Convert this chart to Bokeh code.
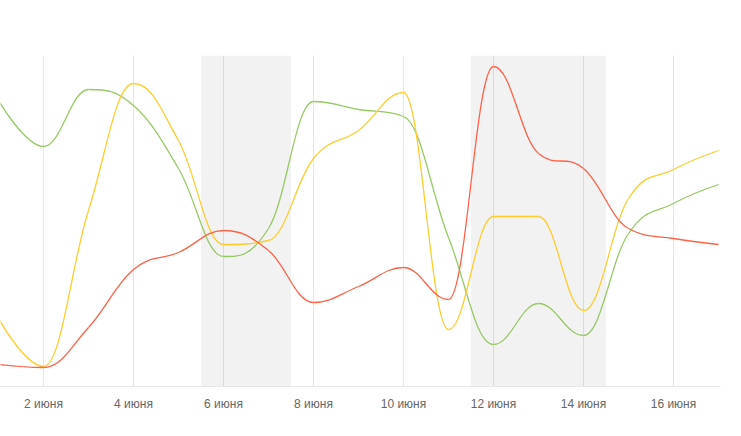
from bokeh.plotting import figure
from bokeh.models import BoxAnnotation, FixedTicker, ColumnDataSource, Range1d
from bokeh.embed import file_html
from bokeh.resources import INLINE

# ---- data ----
days = list(range(1, 18))
red = [22, 19, 59, 117, 134, 156, 136, 84, 100, 119, 87, 320, 233, 218, 158, 148, 142]
yellow = [68, 20, 176, 303, 246, 142, 146, 228, 256, 294, 57, 170, 170, 76, 188, 217, 236]
green = [286, 240, 297, 281, 218, 130, 158, 285, 277, 270, 149, 42, 83, 51, 153, 183, 202]
tick_days = [2, 4, 6, 8, 10, 12, 14, 16]
tick_labels = ["2 июня", "4 июня", "6 июня", "8 июня", "10 июня", "12 июня", "14 июня", "16 июня"]
bands = [(5.5, 7.5), (11.5, 14.5)]

series = [(green, "#99c866"), (yellow, "#ffcc2e"), (red, "#ff6146")]


def spline_segments(xs, ys, smoothing=1.5):
    """Highcharts-style spline control points -> bezier segments."""
    n = len(xs)
    denom = smoothing + 1
    left = [(xs[i], ys[i]) for i in range(n)]
    right = [(xs[i], ys[i]) for i in range(n)]
    for i in range(1, n - 1):
        px, py = xs[i], ys[i]
        lx, ly = xs[i - 1], ys[i - 1]
        nx, ny = xs[i + 1], ys[i + 1]
        lcx = (smoothing * px + lx) / denom
        lcy = (smoothing * py + ly) / denom
        rcx = (smoothing * px + nx) / denom
        rcy = (smoothing * py + ny) / denom
        corr = 0
        if rcx != lcx:
            corr = ((rcy - lcy) * (rcx - px)) / (rcx - lcx) + py - rcy
        lcy += corr
        rcy += corr
        if lcy > ly and lcy > py:
            lcy = max(ly, py)
            rcy = 2 * py - lcy
        elif lcy < ly and lcy < py:
            lcy = min(ly, py)
            rcy = 2 * py - lcy
        if rcy > ny and rcy > py:
            rcy = max(ny, py)
            lcy = 2 * py - rcy
        elif rcy < ny and rcy < py:
            rcy = min(ny, py)
            lcy = 2 * py - rcy
        left[i] = (lcx, lcy)
        right[i] = (rcx, rcy)
    d = dict(x0=[], y0=[], x1=[], y1=[], cx0=[], cy0=[], cx1=[], cy1=[])
    for i in range(1, n):
        d["x0"].append(xs[i - 1]); d["y0"].append(ys[i - 1])
        d["x1"].append(xs[i]); d["y1"].append(ys[i])
        d["cx0"].append(right[i - 1][0]); d["cy0"].append(right[i - 1][1])
        d["cx1"].append(left[i][0]); d["cy1"].append(left[i][1])
    return d


p = figure(
    output_backend="svg", toolbar_location=None,
    frame_width=720, frame_height=331,
    min_border_left=0, min_border_right=13, min_border_top=55, min_border_bottom=40,
    x_range=Range1d(2 - 43 / 45, 2 + 677 / 45), y_range=Range1d(0, 331),
)
p.outline_line_color = None
p.background_fill_color = "white"
p.border_fill_color = "white"

for a, b in bands:
    p.add_layout(BoxAnnotation(left=a, right=b, fill_color="#f2f2f2", fill_alpha=1.0,
                               line_color=None, level="image"))

p.yaxis.visible = False
p.ygrid.visible = False
p.xgrid.ticker = FixedTicker(ticks=tick_days)
p.xgrid.grid_line_color = "#000000"
p.xgrid.grid_line_alpha = 0.1
p.xgrid.grid_line_width = 1

p.xaxis.ticker = FixedTicker(ticks=tick_days)
p.xaxis.major_label_overrides = {d: l for d, l in zip(tick_days, tick_labels)}
p.xaxis.axis_line_color = "#e6e6e6"
p.xaxis.major_tick_line_color = None
p.xaxis.minor_tick_line_color = None
p.xaxis.major_label_text_color = "#666666"
p.xaxis.major_label_text_font = "Liberation Sans"
p.xaxis.major_label_text_font_size = "12px"
p.xaxis.major_label_standoff = 4

for vals, col in series:
    src = ColumnDataSource(spline_segments(days, vals))
    p.bezier(x0="x0", y0="y0", x1="x1", y1="y1", cx0="cx0", cy0="cy0", cx1="cx1", cy1="cy1",
             source=src, line_color=col, line_width=1.3)

open("out.html", "w").write(file_html(p, INLINE))
